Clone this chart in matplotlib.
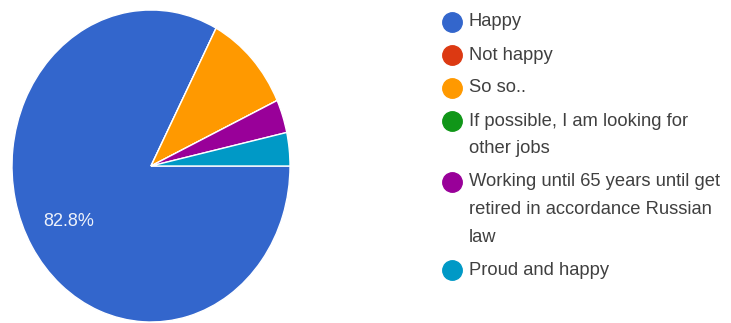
import textwrap
import matplotlib.pyplot as plt

labels = ["Happy", "Not happy", "So so..", "If possible, I am looking for other jobs",
          "Working until 65 years until get retired in accordance Russian law",
          "Proud and happy"]
counts = [24, 0, 3, 0, 1, 1]
colors = ["#3366cc", "#dc3912", "#ff9900", "#109618", "#990099", "#0099c6"]

plt.rcParams["font.family"] = ["Liberation Sans", "DejaVu Sans"]

W, H = 731, 323
fig = plt.figure(figsize=(W / 100, H / 100), dpi=100)

# pie is drawn slightly stretched (ellipse) like the screenshot
ax = fig.add_axes([12 / W, 1 / H, 278 / W, 312 / H])


def pct(p):
    return f"{p:.1f}%" if p > 20 else ""


wedges, texts, autotexts = ax.pie(
    counts, colors=colors, startangle=0, counterclock=False,
    autopct=pct, pctdistance=0.69,
    wedgeprops=dict(edgecolor="white", linewidth=1.0),
    textprops=dict(color="#eef2fa", fontsize=13),
)
ax.set_aspect("auto")
ax.set_xlim(-1, 1)
ax.set_ylim(-1, 1)

# legend drawn by hand in pixel coordinates
lg = fig.add_axes([0, 0, 1, 1])
lg.set_xlim(0, W)
lg.set_ylim(H, 0)
lg.axis("off")

y = 22
for lab, col in zip(labels, colors):
    lines = textwrap.wrap(lab, 32)
    lg.plot(452, y, "o", ms=14, color=col, mec=col)
    for i, line in enumerate(lines):
        lg.text(469, y + i * 27.7, line, fontsize=13.2, color="#404040", va="center", ha="left")
    y += (len(lines) - 1) * 27.7 + 33

fig.savefig("out.png", dpi=100)
